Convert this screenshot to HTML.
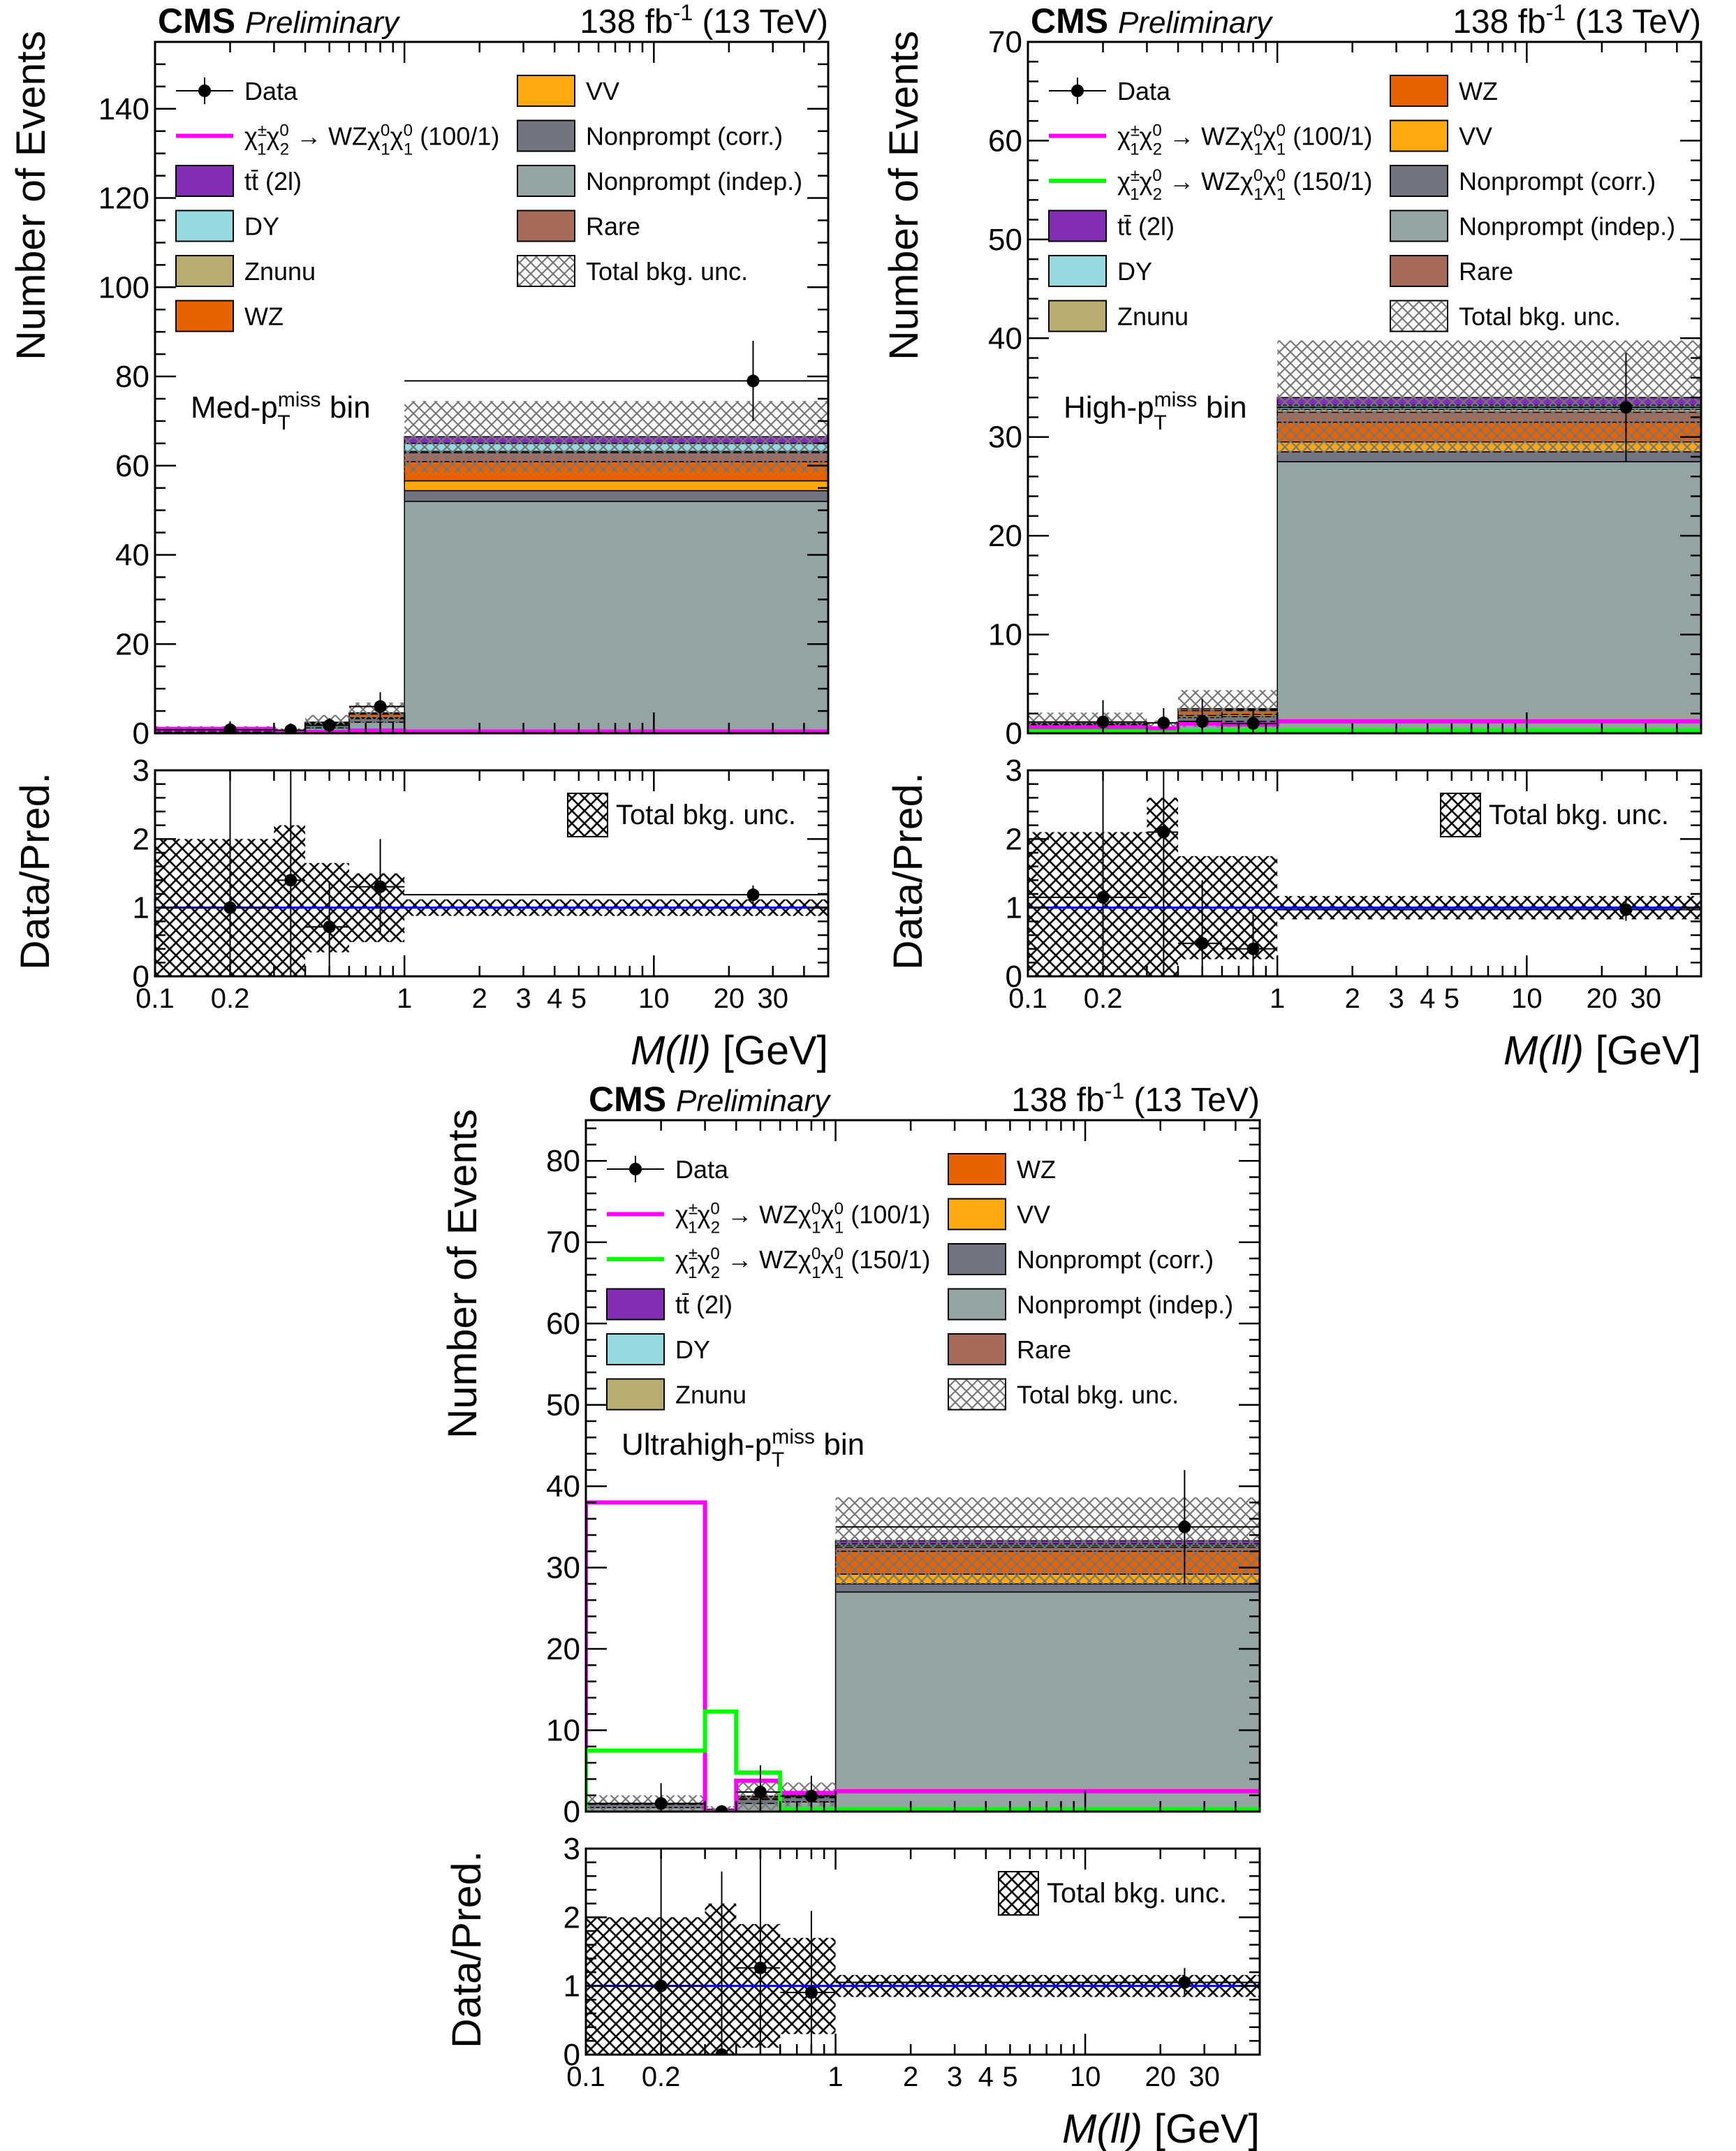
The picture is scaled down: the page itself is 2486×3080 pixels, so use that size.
<!DOCTYPE html>
<html><head><meta charset="utf-8"><style>
html,body{margin:0;padding:0;background:#fff;}
svg{display:block;font-family:"Liberation Sans",Arial,sans-serif;}
</style></head><body>
<svg id="fig" xmlns="http://www.w3.org/2000/svg" width="2486" height="3080" viewBox="0 0 2486 3080">
<defs>
<pattern id="hatchGray" width="16" height="16" patternUnits="userSpaceOnUse">
<path d="M0,0 L16,16 M16,0 L0,16" stroke="#777" stroke-width="2.2" fill="none"/>
</pattern>
<pattern id="hatchBlack" width="18" height="18" patternUnits="userSpaceOnUse">
<path d="M0,0 L18,18 M18,0 L0,18" stroke="#000" stroke-width="2.6" fill="none"/>
</pattern>
</defs>
</svg>
<script>
// ---- shared data ----
const binEdges=[0.1,0.3,0.4,0.6,1,50];
const dataX=[0.2,0.35,0.5,0.8,25];
const xTickLabels=['0.1','0.2','1','2','3','4','5','10','20','30'];
const xTickValues=[0.1,0.2,1,2,3,4,5,10,20,30];
const procNames=['Nonprompt (indep.)','Nonprompt (corr.)','VV','WZ','Rare','Znunu','DY','tt'];
const procColors=['#94a4a2','#717581','#ffa90e','#e76300','#a96b59','#b9ac70','#94d9de','#832db6'];

// ---- panel 1: Med-pT ----
const p1Indep=[0.3,0.2,1.2,2.5,52];
const p1Corr=[0.3,0.2,0.8,0.8,2.4];
const p1VV=[0,0,0.1,0.2,2.2];
const p1WZ=[0,0,0.2,0.8,4.3];
const p1Rare=[0.1,0,0.1,0.2,2.0];
const p1Znunu=[0,0,0,0,0.3];
const p1DY=[0.1,0.1,0.1,0,1.8];
const p1TT=[0,0,0,0.1,1.5];
const p1RelUnc=[1.0,1.2,0.65,0.5,0.12];
const p1Data=[0.8,0.7,1.8,6,79];
const p1DataErr=[1.9,1.5,1.6,3.2,9];
const p1Sig100=[1.0,0.3,0.3,0.6,0.4];

// ---- panel 2: High-pT ----
const p2Indep=[0.4,0.3,1.0,1.2,27.5];
const p2Corr=[0.4,0.2,0.6,0.5,1.0];
const p2VV=[0,0,0.2,0.2,1.0];
const p2WZ=[0.1,0,0.5,0.4,2.0];
const p2Rare=[0.1,0,0.2,0.1,1.0];
const p2Znunu=[0,0,0,0,0.3];
const p2DY=[0,0,0,0,0.4];
const p2TT=[0,0,0,0.1,0.8];
const p2RelUnc=[1.1,1.6,0.75,0.75,0.17];
const p2Data=[1.15,1.05,1.2,1.0,33];
const p2DataErr=[2.2,1.5,2.3,1.3,5.5];
const p2Sig100=[0.6,0.5,1.0,0.9,1.2];
const p2Sig150=[0.2,0.1,0.2,0.3,0.3];

// ---- panel 3: Ultrahigh-pT ----
const p3Indep=[0.5,0.2,1.0,1.2,27];
const p3Corr=[0.4,0.1,0.5,0.5,1.0];
const p3VV=[0,0,0.1,0.1,1.2];
const p3WZ=[0.1,0,0.2,0.2,2.8];
const p3Rare=[0,0,0.1,0.1,0.5];
const p3Znunu=[0,0,0,0,0.2];
const p3DY=[0,0,0,0,0.2];
const p3TT=[0,0,0,0,0.4];
const p3RelUnc=[1.0,1.2,0.9,0.7,0.16];
const p3Data=[1.0,0,2.4,1.9,35];
const p3DataErr=[2.5,0.8,3.3,2.5,7];
const p3Sig100=[38,0,3.8,2.3,2.5];
const p3Sig150=[7.5,12.3,4.8,0.3,0.3];

const panels=[
 {key:'med',label:'Med',x:222,w:964,y:60,h:990,ry:1103,rh:295,ymax:155,ymaj:20,ymin:5,
  procs:[p1Indep,p1Corr,p1VV,p1WZ,p1Rare,p1Znunu,p1DY,p1TT],relUnc:p1RelUnc,data:p1Data,dataErr:p1DataErr,
  sig:[{v:p1Sig100,c:'#ff00ff',n:'100/1'}],
  leftLeg:['data','sig0','tt','DY','Znunu','WZ'],rightLeg:['VV','corr','indep','Rare','unc'],
  ytitle:{x:64,y:44,len:472},rtitle:{x:70,y:1106,len:283},xtitleY:1524,tickY:1443,textY:538},
 {key:'high',label:'High',x:1472,w:964,y:60,h:990,ry:1103,rh:295,ymax:70,ymaj:10,ymin:2,
  procs:[p2Indep,p2Corr,p2VV,p2WZ,p2Rare,p2Znunu,p2DY,p2TT],relUnc:p2RelUnc,data:p2Data,dataErr:p2DataErr,
  sig:[{v:p2Sig100,c:'#ff00ff',n:'100/1'},{v:p2Sig150,c:'#00ff00',n:'150/1'}],
  leftLeg:['data','sig0','sig1','tt','DY','Znunu'],rightLeg:['WZ','VV','corr','indep','Rare','unc'],
  ytitle:{x:1314,y:44,len:472},rtitle:{x:1320,y:1106,len:283},xtitleY:1524,tickY:1443,textY:538},
 {key:'ultra',label:'Ultrahigh',x:839,w:965,y:1604,h:990,ry:2647,rh:295,ymax:85,ymaj:10,ymin:2,
  procs:[p3Indep,p3Corr,p3VV,p3WZ,p3Rare,p3Znunu,p3DY,p3TT],relUnc:p3RelUnc,data:p3Data,dataErr:p3DataErr,
  sig:[{v:p3Sig100,c:'#ff00ff',n:'100/1'},{v:p3Sig150,c:'#00ff00',n:'150/1'}],
  leftLeg:['data','sig0','sig1','tt','DY','Znunu'],rightLeg:['WZ','VV','corr','indep','Rare','unc'],
  ytitle:{x:682,y:1588,len:472},rtitle:{x:688,y:2650,len:283},xtitleY:3068,tickY:2987,textY:479}
];

const NS='http://www.w3.org/2000/svg';
const svg=document.getElementById('fig');
function mk(tag,attrs,parent){const e=document.createElementNS(NS,tag);for(const k in attrs)e.setAttribute(k,attrs[k]);(parent||svg).appendChild(e);return e;}

const lx0=Math.log10(0.1), lx1=Math.log10(50);
function sigLabel(n){
 return 'χ<tspan baseline-shift="super" font-size="24">±</tspan><tspan dx="-14" baseline-shift="sub" font-size="24">1</tspan>χ<tspan baseline-shift="super" font-size="24">0</tspan><tspan dx="-13" baseline-shift="sub" font-size="24">2</tspan> → WZχ<tspan baseline-shift="super" font-size="24">0</tspan><tspan dx="-13" baseline-shift="sub" font-size="24">1</tspan>χ<tspan baseline-shift="super" font-size="24">0</tspan><tspan dx="-13" baseline-shift="sub" font-size="24">1</tspan> ('+n+')';
}

panels.forEach((P,pi)=>{
 const g=mk('g',{});
 
 
 const X=v=>P.x+(Math.log10(v)-lx0)/(lx1-lx0)*P.w;
 const Y=v=>P.y+P.h-v/P.ymax*P.h;
 const RY=v=>P.ry+P.rh-Math.max(0,Math.min(3,v))/3*P.rh;
 const cid='clip'+pi, rcid='rclip'+pi;
 const cp=mk('clipPath',{id:cid},g); mk('rect',{x:P.x,y:P.y,width:P.w,height:P.h},cp);
 const rcp=mk('clipPath',{id:rcid},g); mk('rect',{x:P.x,y:P.ry,width:P.w,height:P.rh},rcp);
 const main=mk('g',{'clip-path':'url(#'+cid+')'},g);
 
 
 const totals=[0,0,0,0,0];
 // stacked bars
 P.procs.forEach((arr,k)=>{
  arr.forEach((v,b)=>{
   if(v>0){
    const r=mk('rect',{x:X(binEdges[b]),y:Y(totals[b]+v),width:X(binEdges[b+1])-X(binEdges[b]),height:Y(totals[b])-Y(totals[b]+v),fill:procColors[k],stroke:'#000','stroke-width':1.5},main);
    
    
   }
   totals[b]+=v;
  });
 });
 // uncertainty band
 totals.forEach((t,b)=>{
  const lo=Math.max(0,t*(1-P.relUnc[b])),hi=t*(1+P.relUnc[b]);
  const r=mk('rect',{x:X(binEdges[b]),y:Y(hi),width:X(binEdges[b+1])-X(binEdges[b]),height:Y(lo)-Y(hi),fill:'url(#hatchGray)'},main);
  
  
 });
 // signals
 P.sig.forEach((s,si)=>{
  let d='M'+X(binEdges[0])+','+Y(0);
  s.v.forEach((v,b)=>{d+=' V'+Y(v)+' H'+X(binEdges[b+1]);});
  const p=mk('path',{d:d,fill:'none',stroke:s.c,'stroke-width':6},main);
  
  
 });
 // data
 P.data.forEach((v,b)=>{
  const dg=mk('g',{},main);
  
  
  mk('line',{x1:X(binEdges[b]),x2:X(binEdges[b+1]),y1:Y(v),y2:Y(v),stroke:'#000','stroke-width':2},dg);
  mk('line',{x1:X(dataX[b]),x2:X(dataX[b]),y1:Y(Math.max(0,v-P.dataErr[b])),y2:Y(v+P.dataErr[b]),stroke:'#000','stroke-width':2},dg);
  mk('circle',{cx:X(dataX[b]),cy:Y(v),r:9,fill:'#000'},dg);
 });
 // ratio pad
 const rat=mk('g',{'clip-path':'url(#'+rcid+')'},g);
 
 
 totals.forEach((t,b)=>{
  const r=mk('rect',{x:X(binEdges[b]),y:RY(1+P.relUnc[b]),width:X(binEdges[b+1])-X(binEdges[b]),height:RY(1-P.relUnc[b])-RY(1+P.relUnc[b]),fill:'url(#hatchBlack)'},rat);
  
  
 });
 const one=mk('line',{x1:P.x,x2:P.x+P.w,y1:RY(1),y2:RY(1),stroke:'#0000ff','stroke-width':3},rat);
 
 
 P.data.forEach((v,b)=>{
  const t=totals[b],r=v/t,e=P.dataErr[b]/t;
  const dg=mk('g',{},rat);
  
  
  mk('line',{x1:X(binEdges[b]),x2:X(binEdges[b+1]),y1:RY(r),y2:RY(r),stroke:'#000','stroke-width':2},dg);
  mk('line',{x1:X(dataX[b]),x2:X(dataX[b]),y1:RY(r-e),y2:RY(r+e),stroke:'#000','stroke-width':2},dg);
  mk('circle',{cx:X(dataX[b]),cy:RY(r),r:9,fill:'#000'},dg);
 });
 // frames
 [[P.y,P.h],[P.ry,P.rh]].forEach(([yy,hh],fi)=>{
  const f=mk('rect',{x:P.x,y:yy,width:P.w,height:hh,fill:'none',stroke:'#000','stroke-width':3},g);
  
  
  // x log ticks
  for(let dec=-1;dec<=1;dec++){for(let m=1;m<=9;m++){const v=m*Math.pow(10,dec);if(v>50)continue;
   const xx=X(v),L=(m===1)?30:15;
   mk('line',{x1:xx,x2:xx,y1:yy+hh,y2:yy+hh-L,stroke:'#000','stroke-width':2.5},g);
   mk('line',{x1:xx,x2:xx,y1:yy,y2:yy+L,stroke:'#000','stroke-width':2.5},g);}}
 });
 // main y ticks
 for(let v=0;v<=P.ymax+0.001;v+=P.ymin){
  const maj=Math.abs(v/P.ymaj-Math.round(v/P.ymaj))<1e-6,L=maj?30:15,yy=Y(v);
  mk('line',{x1:P.x,x2:P.x+L,y1:yy,y2:yy,stroke:'#000','stroke-width':2.5},g);
  mk('line',{x1:P.x+P.w,x2:P.x+P.w-L,y1:yy,y2:yy,stroke:'#000','stroke-width':2.5},g);
  if(maj){const t=mk('text',{x:P.x-8,y:yy+15,'text-anchor':'end','font-size':44},g);t.textContent=Math.round(v);
   
   }
 }
 // ratio y ticks
 for(let i=0;i<=15;i++){const v=i*0.2,maj=i%5===0,L=maj?30:15,yy=RY(v);
  mk('line',{x1:P.x,x2:P.x+L,y1:yy,y2:yy,stroke:'#000','stroke-width':2.5},g);
  mk('line',{x1:P.x+P.w,x2:P.x+P.w-L,y1:yy,y2:yy,stroke:'#000','stroke-width':2.5},g);
  if(maj){const t=mk('text',{x:P.x-8,y:yy+15,'text-anchor':'end','font-size':44},g);t.textContent=Math.round(v);
   
   }
 }
 // x tick labels
 xTickValues.forEach((v,i)=>{const t=mk('text',{x:X(v),y:P.tickY,'text-anchor':'middle','font-size':40},g);t.textContent=xTickLabels[i];
  
  });
 // titles
 let t=mk('text',{x:P.x+P.w,y:P.xtitleY,'text-anchor':'end','font-size':58,textLength:283,lengthAdjust:'spacingAndGlyphs'},g);
 t.innerHTML='<tspan font-style="italic">M(ll)</tspan> [GeV]';
 
 
 t=mk('text',{x:P.ytitle.x,y:P.ytitle.y,'text-anchor':'end','font-size':58,textLength:P.ytitle.len,lengthAdjust:'spacingAndGlyphs',transform:'rotate(-90 '+P.ytitle.x+' '+P.ytitle.y+')'},g);
 t.textContent='Number of Events';
 
 
 t=mk('text',{x:P.rtitle.x,y:P.rtitle.y,'text-anchor':'end','font-size':58,textLength:P.rtitle.len,lengthAdjust:'spacingAndGlyphs',transform:'rotate(-90 '+P.rtitle.x+' '+P.rtitle.y+')'},g);
 t.textContent='Data/Pred.';
 
 
 // header
 t=mk('text',{x:P.x+4,y:P.y-13,'font-size':50},g);
 t.innerHTML='<tspan font-weight="bold">CMS</tspan> <tspan font-style="italic" font-size="44">Preliminary</tspan>';
 
 
 t=mk('text',{x:P.x+P.w,y:P.y-13,'text-anchor':'end','font-size':48},g);
 t.innerHTML='138 fb<tspan baseline-shift="super" font-size="32">-1</tspan> (13 TeV)';
 
 
 t=mk('text',{x:P.x+51,y:P.y+P.textY,'font-size':44},g);
 t.innerHTML=P.label+'-p<tspan baseline-shift="super" font-size="30">miss</tspan><tspan dx="-62" baseline-shift="sub" font-size="30">T</tspan><tspan dx="44"> bin</tspan>';
 
 
 // legend
 const legDefs={
  data:{n:'Data'},sig0:{line:P.sig[0].c,n:sigLabel(P.sig[0].n)},sig1:P.sig[1]?{line:P.sig[1].c,n:sigLabel(P.sig[1].n)}:null,
  tt:{c:procColors[7],n:'t<tspan>t̄</tspan> (2l)'},DY:{c:procColors[6],n:'DY'},Znunu:{c:procColors[5],n:'Znunu'},WZ:{c:procColors[3],n:'WZ'},
  VV:{c:procColors[2],n:'VV'},corr:{c:procColors[1],n:'Nonprompt (corr.)'},indep:{c:procColors[0],n:'Nonprompt (indep.)'},Rare:{c:procColors[4],n:'Rare'},unc:{c:'url(#hatchGray)',n:'Total bkg. unc.'}};
 [[P.leftLeg,30],[P.rightLeg,519]].forEach(([list,off])=>{
  list.forEach((k,i)=>{
   const d=legDefs[k],cy=P.y+70+i*64.5,bx=P.x+off;
   const lg=mk('g',{},g);
   
   
   if(k==='data'){mk('line',{x1:bx,x2:bx+82,y1:cy,y2:cy,stroke:'#000','stroke-width':2},lg);mk('line',{x1:bx+41,x2:bx+41,y1:cy-19,y2:cy+19,stroke:'#000','stroke-width':2},lg);mk('circle',{cx:bx+41,cy:cy,r:9},lg);}
   else if(d.line){mk('line',{x1:bx,x2:bx+82,y1:cy,y2:cy,stroke:d.line,'stroke-width':6},lg);}
   else{mk('rect',{x:bx,y:cy-22,width:82,height:44,fill:d.c,stroke:'#000','stroke-width':2},lg);}
   const tt=mk('text',{x:bx+98,y:cy+13,'font-size':36},lg);tt.innerHTML=d.n;
  });
 });
 // ratio legend
 const rl=mk('g',{},g);
 
 
 mk('rect',{x:P.x+591,y:P.ry+33,width:57,height:62,fill:'url(#hatchBlack)',stroke:'#000','stroke-width':2},rl);
 const rt=mk('text',{x:P.x+660,y:P.ry+77,'font-size':40},rl);rt.textContent='Total bkg. unc.';
});
</script>
</body></html>
